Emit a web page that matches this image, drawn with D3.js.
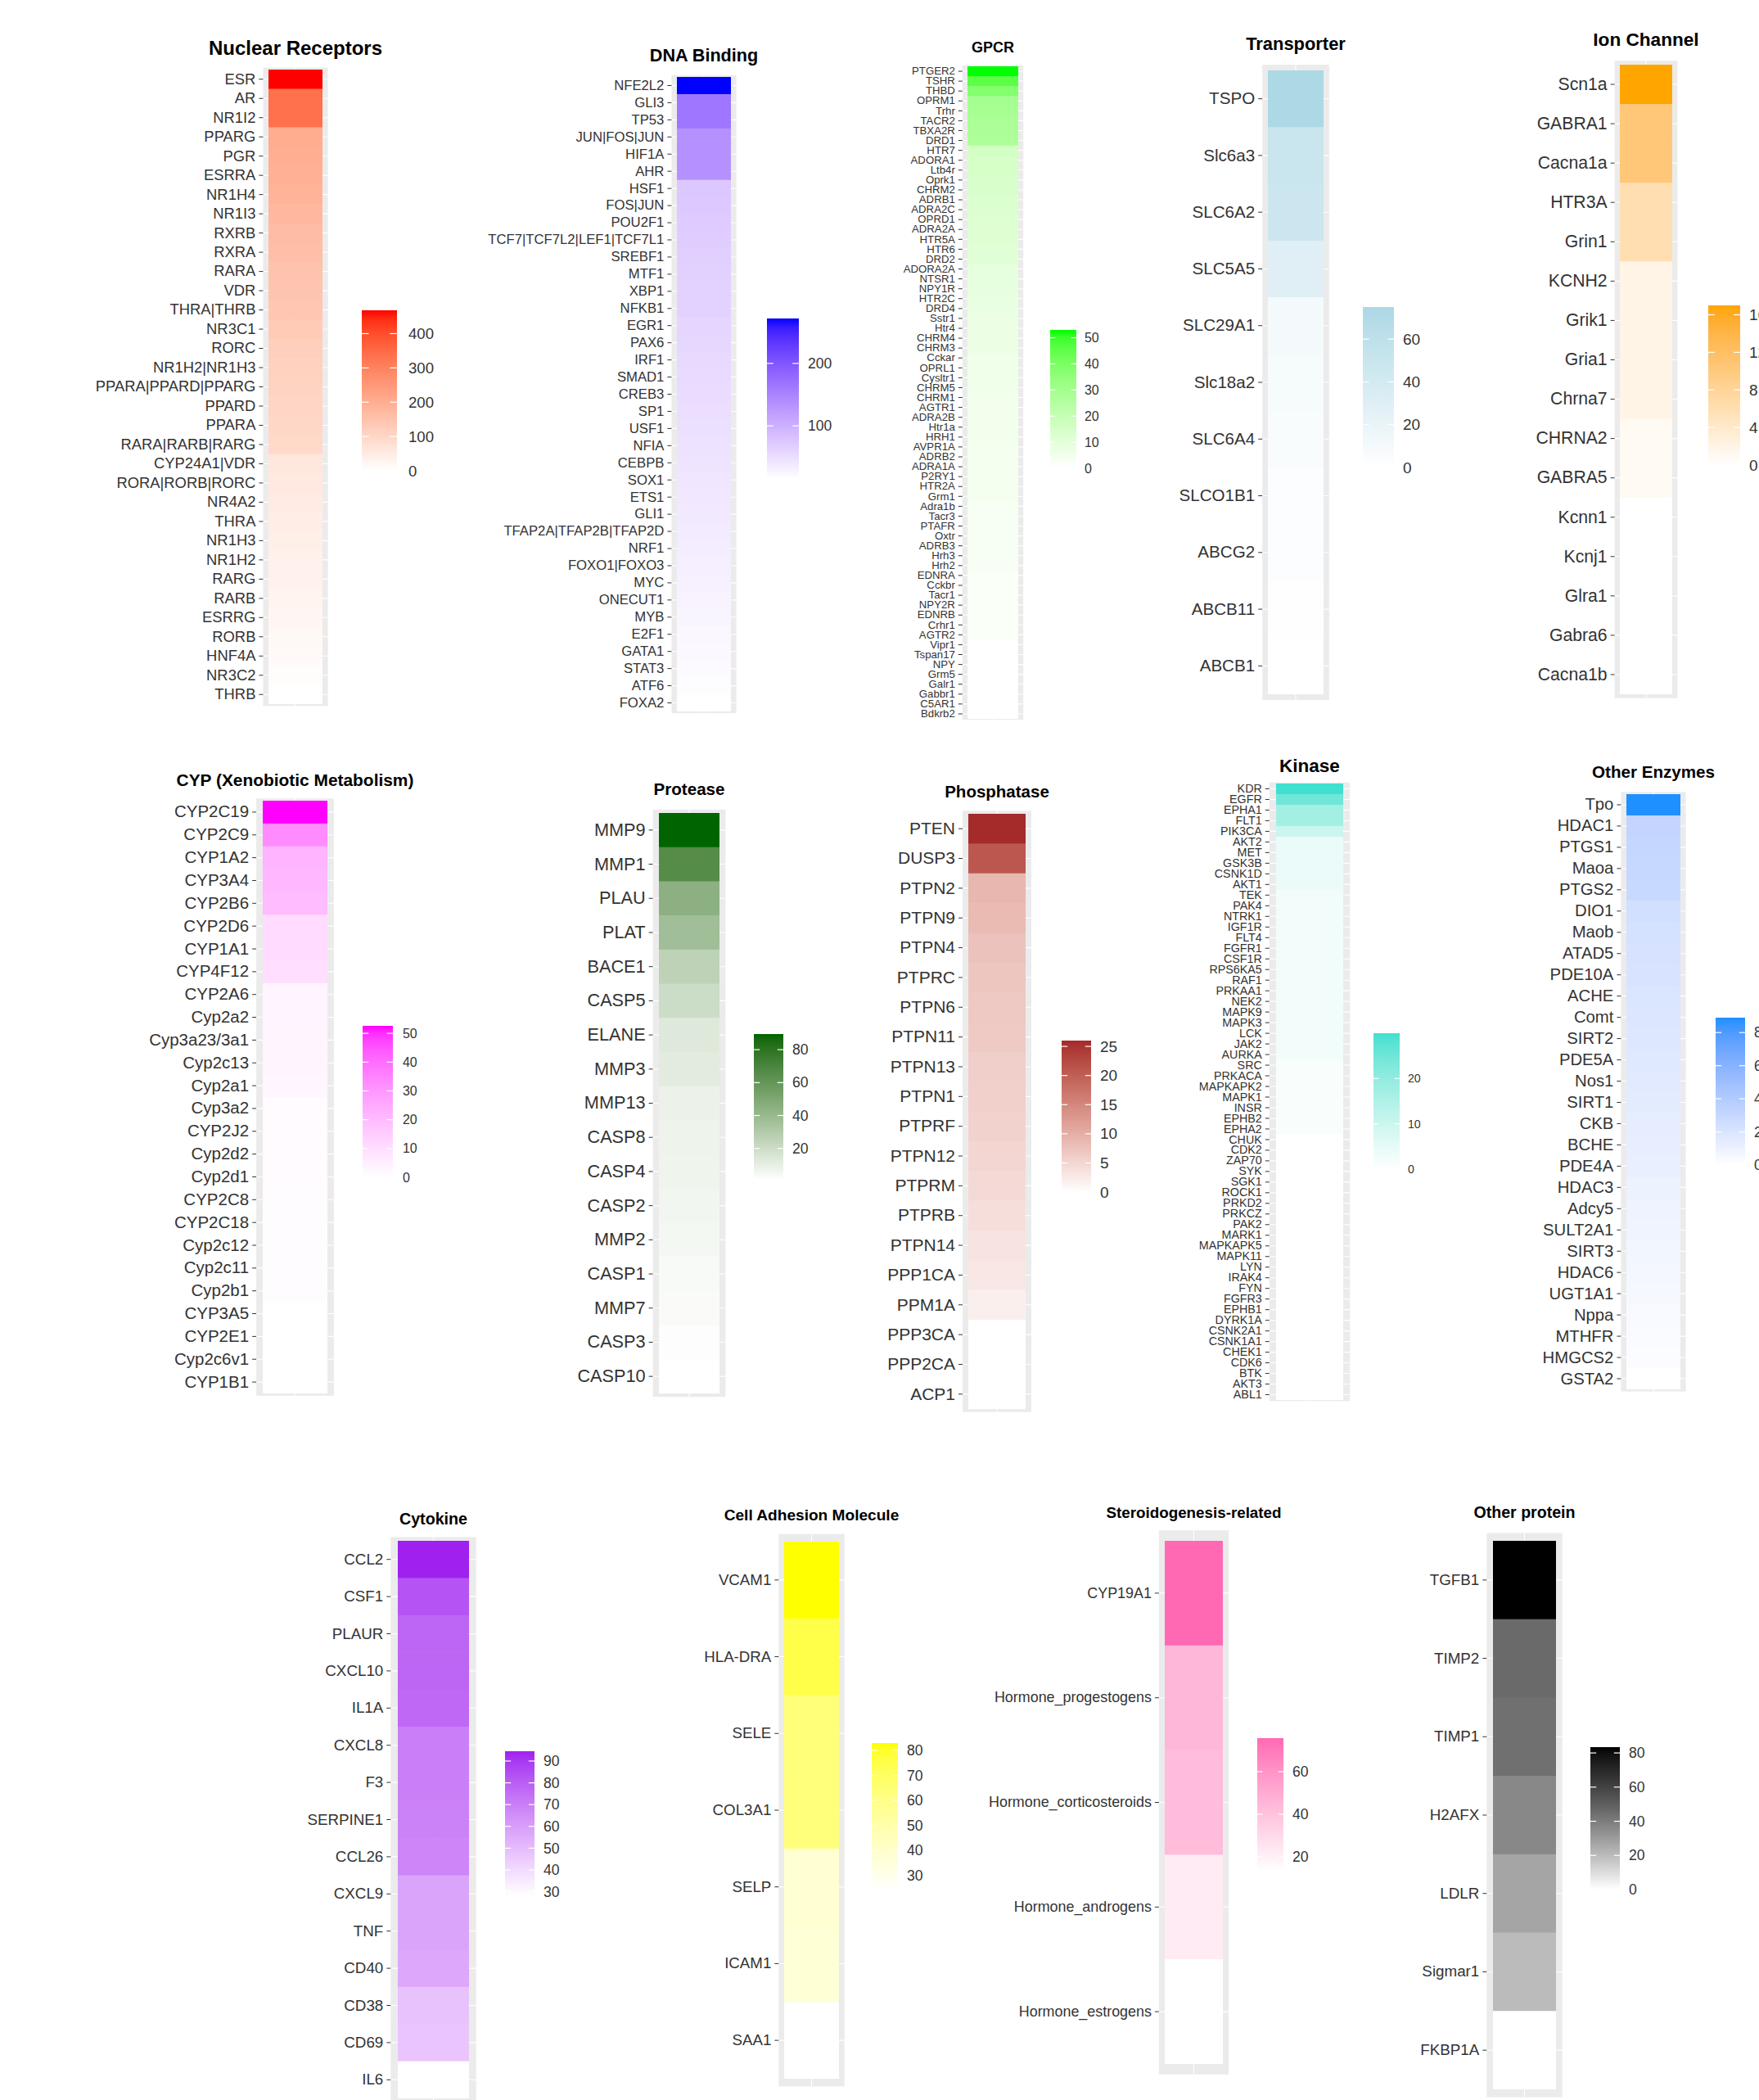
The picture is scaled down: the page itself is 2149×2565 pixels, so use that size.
<!DOCTYPE html>
<html>
<head>
<meta charset="utf-8">
<script src="https://cdn.jsdelivr.net/npm/d3@7"></script>
<style>
html,body{margin:0;padding:0;background:#fff;}
svg{display:block;}
</style>
</head>
<body>
<script>
// ---------------- DATA ----------------
const nrCategories = ["ESR","AR","NR1I2","PPARG","PGR","ESRRA","NR1H4","NR1I3","RXRB","RXRA","RARA","VDR","THRA|THRB","NR3C1","RORC","NR1H2|NR1H3","PPARA|PPARD|PPARG","PPARD","PPARA","RARA|RARB|RARG","CYP24A1|VDR","RORA|RORB|RORC","NR4A2","THRA","NR1H3","NR1H2","RARG","RARB","ESRRG","RORB","HNF4A","NR3C2","THRB"];
const nrValues = [468,335,335,205,200,195,185,175,165,160,150,145,140,130,120,115,110,105,100,95,60,55,50,45,40,36,32,28,22,16,12,6,0];
const nrTicks = [0,100,200,300,400];

const dnaCategories = ["NFE2L2","GLI3","TP53","JUN|FOS|JUN","HIF1A","AHR","HSF1","FOS|JUN","POU2F1","TCF7|TCF7L2|LEF1|TCF7L1","SREBF1","MTF1","XBP1","NFKB1","EGR1","PAX6","IRF1","SMAD1","CREB3","SP1","USF1","NFIA","CEBPB","SOX1","ETS1","GLI1","TFAP2A|TFAP2B|TFAP2D","NRF1","FOXO1|FOXO3","MYC","ONECUT1","MYB","E2F1","GATA1","STAT3","ATF6","FOXA2"];
const dnaValues = [272,165,165,135,135,135,75,73,71,69,67,65,64,63,60,58,56,54,52,50,48,46,44,42,40,38,36,34,32,30,28,26,24,22,20,18,15];
const dnaTicks = [100,200];

const gpcrCategories = ["PTGER2","TSHR","THBD","OPRM1","Trhr","TACR2","TBXA2R","DRD1","HTR7","ADORA1","Ltb4r","Oprk1","CHRM2","ADRB1","ADRA2C","OPRD1","ADRA2A","HTR5A","HTR6","DRD2","ADORA2A","NTSR1","NPY1R","HTR2C","DRD4","Sstr1","Htr4","CHRM4","CHRM3","Cckar","OPRL1","Cysltr1","CHRM5","CHRM1","AGTR1","ADRA2B","Htr1a","HRH1","AVPR1A","ADRB2","ADRA1A","P2RY1","HTR2A","Grm1","Adra1b","Tacr3","PTAFR","Oxtr","ADRB3","Hrh3","Hrh2","EDNRA","Cckbr","Tacr1","NPY2R","EDNRB","Crhr1","AGTR2","Vipr1","Tspan17","NPY","Grm5","Galr1","Gabbr1","C5AR1","Bdkrb2"];
const gpcrValues = [53,46,38,30,29,28,28,27,16,15,15,14,14,13,13,12,12,12,11,11,9,9,9,8,8,7,7,7,7,6,6,6,6,5,5,5,5,5,4,4,4,4,4,4,3,3,3,3,3,3,3,2,2,2,2,2,2,2,0,0,0,0,0,0,0,0];
const gpcrTicks = [0,10,20,30,40,50];

const transCategories = ["TSPO","Slc6a3","SLC6A2","SLC5A5","SLC29A1","Slc18a2","SLC6A4","SLCO1B1","ABCG2","ABCB11","ABCB1"];
const transValues = [75,50,48,30,10,8,6,4,3,1,0];
const transTicks = [0,20,40,60];

const ionCategories = ["Scn1a","GABRA1","Cacna1a","HTR3A","Grin1","KCNH2","Grik1","Gria1","Chrna7","CHRNA2","GABRA5","Kcnn1","Kcnj1","Glra1","Gabra6","Cacna1b"];
const ionValues = [17,10.5,10.5,6,6,2,2,2,2,1,1,0,0,0,0,0];
const ionTicks = [0,4,8,12,16];

const cypCategories = ["CYP2C19","CYP2C9","CYP1A2","CYP3A4","CYP2B6","CYP2D6","CYP1A1","CYP4F12","CYP2A6","Cyp2a2","Cyp3a23/3a1","Cyp2c13","Cyp2a1","Cyp3a2","CYP2J2","Cyp2d2","Cyp2d1","CYP2C8","CYP2C18","Cyp2c12","Cyp2c11","Cyp2b1","CYP3A5","CYP2E1","Cyp2c6v1","CYP1B1"];
const cypValues = [52.6,33,22,21,20,11,10.5,10,3.5,3.3,3,3,2.8,1.2,1.2,1.1,1.1,1,1,1,1,1,0,0,0,0];
const cypTicks = [0,10,20,30,40,50];

const protCategories = ["MMP9","MMP1","PLAU","PLAT","BACE1","CASP5","ELANE","MMP3","MMP13","CASP8","CASP4","CASP2","MMP2","CASP1","MMP7","CASP3","CASP10"];
const protValues = [89.5,66,45,37,26,20,13,12,8,7.5,7,6,5,4,3,2,1];
const protTicks = [20,40,60,80];

const phosCategories = ["PTEN","DUSP3","PTPN2","PTPN9","PTPN4","PTPRC","PTPN6","PTPN11","PTPN13","PTPN1","PTPRF","PTPN12","PTPRM","PTPRB","PTPN14","PPP1CA","PPM1A","PPP3CA","PPP2CA","ACP1"];
const phosValues = [26,21,9,8.5,7.5,7,6.8,6.5,6,5.8,5.5,5,4.5,4,3.5,3,2,0,0,0];
const phosTicks = [0,5,10,15,20,25];

const kinCategories = ["KDR","EGFR","EPHA1","FLT1","PIK3CA","AKT2","MET","GSK3B","CSNK1D","AKT1","TEK","PAK4","NTRK1","IGF1R","FLT4","FGFR1","CSF1R","RPS6KA5","RAF1","PRKAA1","NEK2","MAPK9","MAPK3","LCK","JAK2","AURKA","SRC","PRKACA","MAPKAPK2","MAPK1","INSR","EPHB2","EPHA2","CHUK","CDK2","ZAP70","SYK","SGK1","ROCK1","PRKD2","PRKCZ","PAK2","MARK1","MAPKAPK5","MAPK11","LYN","IRAK4","FYN","FGFR3","EPHB1","DYRK1A","CSNK2A1","CSNK1A1","CHEK1","CDK6","BTK","AKT3","ABL1"];
const kinValues = [30,25,17,17,10,4,4,4,4,4,2.5,2.5,2.5,2.5,2.5,2.5,2.5,2.5,2.5,2.5,2.5,2.5,2.5,2.5,2.5,2.5,1.2,1.2,1.2,1.2,1.2,1.2,1.2,0,0,0,0,0,0,0,0,0,0,0,0,0,0,0,0,0,0,0,0,0,0,0,0,0];
const kinTicks = [0,10,20];

const enzCategories = ["Tpo","HDAC1","PTGS1","Maoa","PTGS2","DIO1","Maob","ATAD5","PDE10A","ACHE","Comt","SIRT2","PDE5A","Nos1","SIRT1","CKB","BCHE","PDE4A","HDAC3","Adcy5","SULT2A1","SIRT3","HDAC6","UGT1A1","Nppa","MTHFR","HMGCS2","GSTA2"];
const enzValues = [8.9,3.2,3.1,3.0,2.9,2.4,2.3,2.2,2.1,2.0,1.9,1.8,1.7,1.6,1.5,1.4,1.3,1.2,1.0,0.9,0.8,0.7,0.6,0.5,0.4,0.3,0.2,0];
const enzTicks = [0,2,4,6,8];

const cytoCategories = ["CCL2","CSF1","PLAUR","CXCL10","IL1A","CXCL8","F3","SERPINE1","CCL26","CXCL9","TNF","CD40","CD38","CD69","IL6"];
const cytoValues = [94.5,83,78,78,77,70,70,69,68,58,58,57,48,47,28];
const cytoTicks = [30,40,50,60,70,80,90];

const cellCategories = ["VCAM1","HLA-DRA","SELE","COL3A1","SELP","ICAM1","SAA1"];
const cellValues = [82.9,75,64,63,38,37,24];
const cellTicks = [30,40,50,60,70,80];

const sterCategories = ["CYP19A1","Hormone_progestogens","Hormone_corticosteroids","Hormone_androgens","Hormone_estrogens"];
const sterValues = [75.8,45,43,22,13];
const sterTicks = [20,40,60];

const othCategories = ["TGFB1","TIMP2","TIMP1","H2AFX","LDLR","Sigmar1","FKBP1A"];
const othValues = [83.4,46,44,36,27,20,0];
const othTicks = [0,20,40,60,80];

// ---------------- LAYOUT ----------------
const W = 2149, H = 2565;
const FONT = "'Liberation Sans', Arial, Helvetica, sans-serif";

const panels = [
  {title:"Nuclear Receptors", cats:nrCategories, vals:nrValues, ticks:nrTicks, color:"#FF0000",
   tile:[328,394,85,860], titleY:67, tSize:24, lSize:18.4, gSize:18.6, gGap:14, leg:[442,485,379,575]},
  {title:"DNA Binding", cats:dnaCategories, vals:dnaValues, ticks:dnaTicks, color:"#0000FF",
   tile:[827,893,94,869], titleY:75, tSize:21.6, lSize:16.7, gSize:17.5, gGap:11, leg:[937,976,389,585]},
  {title:"GPCR", cats:gpcrCategories, vals:gpcrValues, ticks:gpcrTicks, color:"#00FF00",
   tile:[1182,1244,81,878], titleY:64, tSize:18, lSize:13.2, gSize:15.9, gGap:10, leg:[1283,1315,403,572]},
  {title:"Transporter", cats:transCategories, vals:transValues, ticks:transTicks, color:"#ADD8E6",
   tile:[1549,1617,86,848], titleY:61, tSize:21.9, lSize:20.6, gSize:19, gGap:11, leg:[1665,1703,375,571]},
  {title:"Ion Channel", cats:ionCategories, vals:ionValues, ticks:ionTicks, color:"#FFA500",
   tile:[1979,2043,79,848], titleY:56, tSize:22.6, lSize:21.2, gSize:19, gGap:11, leg:[2087,2126,373,568]},
  {title:"CYP (Xenobiotic Metabolism)", cats:cypCategories, vals:cypValues, ticks:cypTicks, color:"#FF00FF",
   tile:[321,400,978,1702], titleY:960, tSize:20.9, lSize:20.5, gSize:15.9, gGap:12, leg:[443,480,1253,1438]},
  {title:"Protease", cats:protCategories, vals:protValues, ticks:protTicks, color:"#006400",
   tile:[805,879,993,1702], titleY:971, tSize:20.6, lSize:21.7, gSize:17.6, gGap:11, leg:[921,957,1263,1441]},
  {title:"Phosphatase", cats:phosCategories, vals:phosValues, ticks:phosTicks, color:"#A52A2A",
   tile:[1183,1253,994,1721], titleY:974, tSize:20.5, lSize:21, gSize:19, gGap:11, leg:[1297,1333,1271,1456]},
  {title:"Kinase", cats:kinCategories, vals:kinValues, ticks:kinTicks, color:"#40E0D0",
   tile:[1559,1641,957,1710], titleY:943, tSize:22.5, lSize:14.3, gSize:14.1, gGap:10, leg:[1678,1710,1262,1428]},
  {title:"Other Enzymes", cats:enzCategories, vals:enzValues, ticks:enzTicks, color:"#1E90FF",
   tile:[1987,2053,970,1697], titleY:950, tSize:20.6, lSize:20.3, gSize:17.5, gGap:11, leg:[2096,2132,1243,1423]},
  {title:"Cytokine", cats:cytoCategories, vals:cytoValues, ticks:cytoTicks, color:"#A020F0",
   tile:[486,573,1882,2563], titleY:1862, tSize:19.7, lSize:18.8, gSize:17.6, gGap:11, leg:[617,653,2139,2316]},
  {title:"Cell Adhesion Molecule", cats:cellCategories, vals:cellValues, ticks:cellTicks, color:"#FFFF00",
   tile:[958,1025,1883,2539], titleY:1857, tSize:19.1, lSize:18.7, gSize:17.6, gGap:11, leg:[1065,1097,2129,2309]},
  {title:"Steroidogenesis-related", cats:sterCategories, vals:sterValues, ticks:sterTicks, color:"#FF69B4",
   tile:[1423,1494,1882,2521], titleY:1854, tSize:18.8, lSize:17.9, gSize:17.6, gGap:11, leg:[1536,1568,2123,2286]},
  {title:"Other protein", cats:othCategories, vals:othValues, ticks:othTicks, color:"#000000",
   tile:[1824,1901,1882,2552], titleY:1854, tSize:19.6, lSize:18.8, gSize:17.6, gGap:11, leg:[1943,1979,2134,2308]}
];

// ---------------- DRAW ----------------
const svg = d3.select("body").append("svg").attr("width", W).attr("height", H)
  .style("font-family", FONT);
svg.append("rect").attr("width", W).attr("height", H).attr("fill", "#fff");
const defs = svg.append("defs");

panels.forEach((p, i) => {
  const g = svg.append("g");
  const [tx0, tx1, ty0, ty1] = p.tile;
  const y = d3.scaleBand().domain(p.cats).range([ty0, ty1]).padding(0);
  const bw = y.bandwidth();
  const tw = tx1 - tx0;
  const bx0 = tx0 - 0.1 * tw, bx1 = tx1 + 0.1 * tw;
  const by0 = ty0 - 0.1 * bw, by1 = ty1 + 0.1 * bw;

  const vmin = d3.min(p.vals), vmax = d3.max(p.vals);
  const color = d3.scaleLinear().domain([vmin, vmax]).range(["#FFFFFF", p.color]).interpolate(d3.interpolateLab);

  // panel background + grid
  g.append("rect").attr("x", bx0).attr("y", by0).attr("width", bx1 - bx0).attr("height", by1 - by0).attr("fill", "#EBEBEB");
  g.selectAll("line.hgrid").data(p.cats).enter().append("line")
    .attr("x1", bx0).attr("x2", bx1)
    .attr("y1", d => y(d) + bw / 2).attr("y2", d => y(d) + bw / 2)
    .attr("stroke", "#fff").attr("stroke-width", 1.1);
  g.append("line").attr("x1", (tx0 + tx1) / 2).attr("x2", (tx0 + tx1) / 2)
    .attr("y1", by0).attr("y2", by1).attr("stroke", "#fff").attr("stroke-width", 1.1);

  // tiles
  g.selectAll("rect.tile").data(p.cats).enter().append("rect")
    .attr("x", tx0).attr("width", tw)
    .attr("y", d => y(d))
    .attr("height", (d, k) => k < p.cats.length - 1 ? bw + 0.6 : bw)
    .attr("fill", (d, k) => color(p.vals[k]));

  // axis
  const ax = g.append("g").attr("transform", `translate(${bx0},0)`)
    .call(d3.axisLeft(y).tickSize(5).tickPadding(4));
  ax.select(".domain").remove();
  ax.attr("font-size", null).attr("font-family", null);
  ax.selectAll(".tick line").attr("stroke", "#333").attr("stroke-width", 1);
  ax.selectAll(".tick text")
    .attr("font-family", FONT).attr("font-size", p.lSize).attr("fill", "#333");

  // title
  g.append("text").attr("x", (tx0 + tx1) / 2).attr("y", p.titleY)
    .attr("text-anchor", "middle").attr("font-weight", "bold").attr("font-size", p.tSize)
    .attr("fill", "#000").text(p.title);

  // legend colour bar
  const [lx0, lx1, lyTop, lyBot] = p.leg;
  const ly = d3.scaleLinear().domain([vmin, vmax]).range([lyBot, lyTop]);
  const gid = "grad" + i;
  const grad = defs.append("linearGradient").attr("id", gid)
    .attr("x1", 0).attr("y1", 1).attr("x2", 0).attr("y2", 0);
  d3.range(0, 21).forEach(s => {
    const t = s / 20;
    grad.append("stop").attr("offset", t).attr("stop-color", color(vmin + t * (vmax - vmin)));
  });
  g.append("rect").attr("x", lx0).attr("y", lyTop).attr("width", lx1 - lx0).attr("height", lyBot - lyTop)
    .attr("fill", `url(#${gid})`);
  const lw = (lx1 - lx0) * 0.2;
  const tk = p.ticks.filter(v => v >= vmin - 1e-9 && v <= vmax + 1e-9);
  g.selectAll("line.ltl").data(tk).enter().append("line")
    .attr("x1", lx0).attr("x2", lx0 + lw).attr("y1", d => ly(d)).attr("y2", d => ly(d))
    .attr("stroke", "#fff").attr("stroke-width", 1.2);
  g.selectAll("line.ltr").data(tk).enter().append("line")
    .attr("x1", lx1 - lw).attr("x2", lx1).attr("y1", d => ly(d)).attr("y2", d => ly(d))
    .attr("stroke", "#fff").attr("stroke-width", 1.2);
  g.selectAll("text.ll").data(tk).enter().append("text")
    .attr("x", lx1 + p.gGap).attr("y", d => ly(d))
    .attr("dy", "0.35em").attr("font-size", p.gSize).attr("fill", "#333")
    .text(d => d);
});
</script>
</body>
</html>
